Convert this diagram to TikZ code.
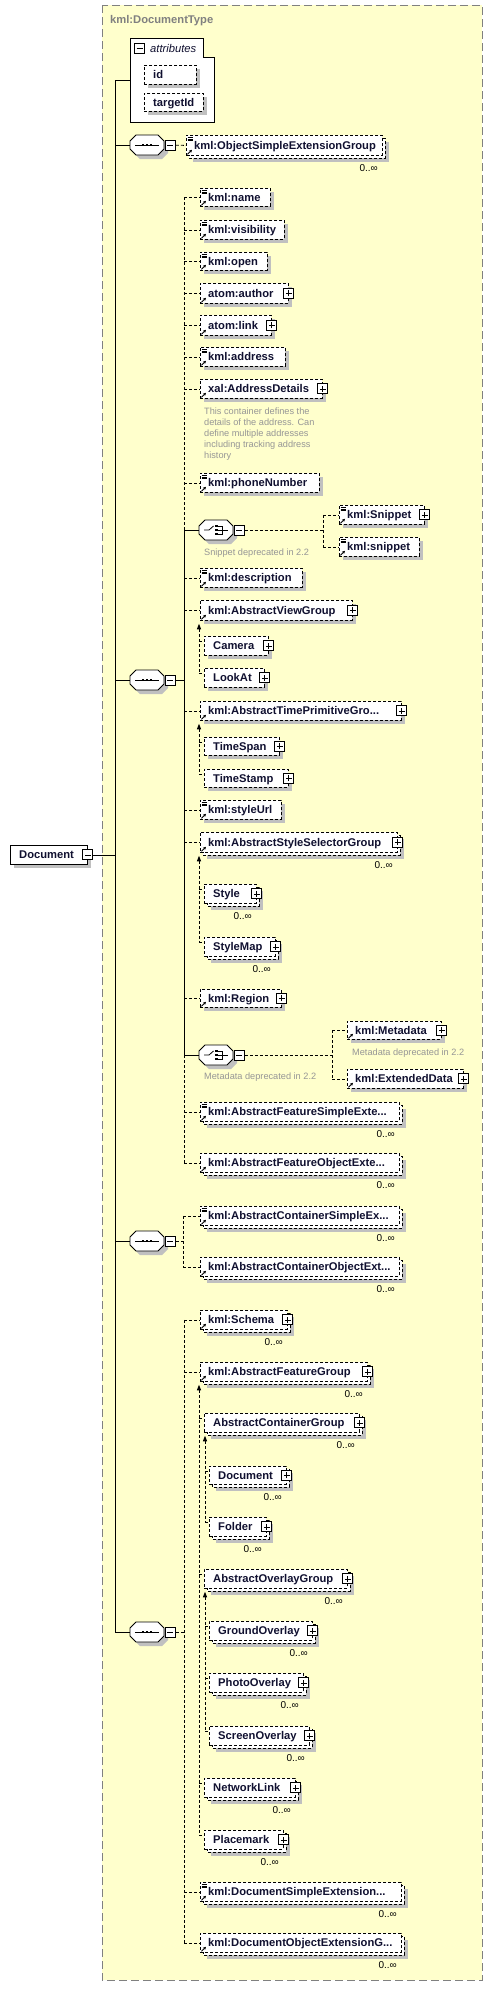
\documentclass[tikz,border=0pt]{standalone}
\usepackage{fontspec}
\setmainfont{Liberation Sans}
\usetikzlibrary{calc,arrows.meta}
\definecolor{bgy}{RGB}{255,255,204}
\definecolor{shadowc}{RGB}{192,192,192}
\definecolor{framec}{RGB}{128,128,128}
\definecolor{annoc}{RGB}{150,150,150}
\definecolor{txtc}{RGB}{16,16,48}
\tikzset{
 dl/.style={dash pattern=on 3pt off 2pt, line width=0.8pt},
 sl/.style={line width=0.8pt},
 elbox/.style={draw, dl, fill=white, inner sep=0pt, anchor=north west},
 solidbox/.style={draw, sl, fill=white, inner sep=0pt, anchor=north west},
 eltext/.style={anchor=base west, inner sep=0pt, text=txtc, font=\fontsize{11.2}{13}\selectfont\bfseries},
 mult/.style={anchor=base east, inner sep=0pt, font=\fontsize{10}{12}\selectfont},
 anno/.style={anchor=base west, inner sep=0pt, text=annoc, font=\fontsize{9.2}{11}\selectfont},
 pm/.style={draw, fill=white, line width=0.9pt, minimum size=10pt, inner sep=0pt},
 minusbox/.style={pm, path picture={\draw[line width=0.7pt] ([xshift=-3pt]path picture bounding box.center) -- ([xshift=3pt]path picture bounding box.center);}},
 plusbox/.style={pm, path picture={\draw[line width=0.7pt] ([xshift=-3pt]path picture bounding box.center) -- ([xshift=3pt]path picture bounding box.center) ([yshift=-3pt]path picture bounding box.center) -- ([yshift=3pt]path picture bounding box.center);}},
 compnode/.style={inner sep=0pt, minimum width=34pt, minimum height=20pt, anchor=north west},
}
% single element box: [text offset]{name}{x1}{y1}{x2}{y2}{text}
\newcommand\xE[7][8]{%
 \fill[shadowc] (#3+4,#4+4) rectangle (#5+4,#6+4);
 \node[elbox, minimum width={#5-#3}, minimum height={#6-#4}] (#2) at (#3,#4) {};
 \node[eltext] (#2-t) at ($(#2.west)+(#1,4)$) {#7};
}
% repeated element box (0..inf)
\newcommand\xEM[7][8]{%
 \fill[shadowc] (#3+7,#4+7) rectangle (#5+7,#6+7);
 \draw[dl, fill=white] (#3+3,#4+3) rectangle (#5+3,#6+3);
 \node[elbox, minimum width={#5-#3}, minimum height={#6-#4}] (#2) at (#3,#4) {};
 \node[eltext] (#2-t) at ($(#2.west)+(#1,4)$) {#7};
 \node[mult] (#2-n) at (#5-4,#6+16) {0..∞};
}
\newcommand\xSi[1]{\foreach \yy in {2,3.8,5.6} \draw[line width=0.55pt] ($(#1.north west)+(1.5,\yy)$) -- ++(5,0);}
\newcommand\xRf[1]{\draw[line width=0.9pt, -{Stealth[length=3pt,width=3pt]}] ($(#1.south west)+(1.5,-1.5)$) -- ++(4.5,-4.5);}
\newcommand\xPl[1]{\node[plusbox] (#1-p) at (#1.east) {};}
\newcommand\xOct[2]{(#1+6,#2) -- (#1+28,#2) -- (#1+34,#2+6) -- (#1+34,#2+14) -- (#1+28,#2+20) -- (#1+6,#2+20) -- (#1,#2+14) -- (#1,#2+6) -- cycle}
\newcommand\xSeq[3]{%
 \fill[shadowc] \xOct{#2+4}{#3+4};
 \node[compnode] (#1) at (#2,#3) {};
 \draw[sl, fill=white] \xOct{#2}{#3};
 \node[minusbox, anchor=west] (#1-m) at ($(#1.east)+(0.5,0)$) {};
 \draw[sl] (#2+5,#3+10) -- (#2+29,#3+10);
 \foreach \xx in {13,17,21} \fill (#2+\xx-1.4,#3+8.6) rectangle ++(2.8,2.8);
}
\newcommand\xCho[3]{%
 \fill[shadowc] \xOct{#2+4}{#3+4};
 \node[compnode] (#1) at (#2,#3) {};
 \draw[sl, fill=white] \xOct{#2}{#3};
 \node[minusbox, anchor=west] (#1-m) at ($(#1.east)+(0.5,0)$) {};
 \draw[sl] (#2+5,#3+10) -- (#2+10,#3+10) -- (#2+14.5,#3+6);
 \foreach \yy in {6,10,14} \fill (#2+16.2,#3+\yy-1.3) rectangle ++(2.6,2.6);
 \draw[sl] (#2+19,#3+6) -- (#2+23,#3+6) -- (#2+23,#3+14) -- (#2+19,#3+14) (#2+19,#3+10) -- (#2+29,#3+10);
}
% substitution group: {head}{x}{last}{members}
\newcommand\xSub[4]{%
 \coordinate (#1-sb) at (#2,0);
 \fill ($(#1-sb |- #1.south)+(0,3)$) -- ++(-2.2,5.5) -- ++(4.4,0) -- cycle;
 \draw[dl] ($(#1-sb |- #1.south)+(0,8)$) -- ($(#1-sb |- #3.north)+(0,5)$);
 \foreach \mm in {#4} \draw[dl] ($(#1-sb |- \mm.north)+(0,5)$) -- ($(\mm.north west)+(0,5)$);
}
\begin{document}
\begin{tikzpicture}[x=1pt,y=-1pt]
\useasboundingbox (0,0) rectangle (493,1990);
\fill[white] (0,0) rectangle (493,1990);
\draw[framec, line width=1pt, dash pattern=on 8pt off 4pt, fill=bgy] (102,5) rectangle (482,1980);
\node[anchor=base west, inner sep=0pt, text=framec, font=\fontsize{11.2}{13}\selectfont\bfseries] (title) at (110,23) {kml:DocumentType};

% root
\fill[shadowc] (14,849) rectangle (91,868);
\node[solidbox, minimum width=77pt, minimum height=19pt] (root) at (10,845) {};
\node[eltext] (root-t) at ($(root.west)+(9,4)$) {Document};
\node[minusbox] (root-m) at (root.east) {};

% attributes
\draw[sl, fill=white] (130,38) -- (203,38) -- (203,57) -- (214,57) -- (214,122) -- (130,122) -- cycle;
\coordinate (attrw) at (130,80);
\node[minusbox] (attr-m) at (139.5,48.3) {};
\node[anchor=base west, inner sep=0pt, text=txtc, font=\fontsize{11.2}{13}\selectfont\itshape] (attr-t) at (150,52) {attributes};
\xE[9]{idb}{144}{65}{196}{84}{id}
\xE[9]{tidb}{144}{93}{203}{111}{targetId}

% sequence 1
\xSeq{s1}{130}{135}
\xEM{osg}{186}{135}{382}{155}{kml:ObjectSimpleExtensionGroup}\xSi{osg}\xRf{osg}

% sequence 2
\xSeq{s2}{130}{670}
\xE{nm}{200}{188}{270}{206}{kml:name}\xSi{nm}\xRf{nm}
\xE{vis}{200}{220}{284}{239}{kml:visibility}\xSi{vis}\xRf{vis}
\xE{opn}{200}{252}{267}{270}{kml:open}\xSi{opn}\xRf{opn}
\xE{aut}{200}{283}{288}{303}{atom:author}\xRf{aut}\xPl{aut}
\xE{lnk}{200}{315}{271}{335}{atom:link}\xRf{lnk}\xPl{lnk}
\xE{adr}{200}{347}{285}{366}{kml:address}\xSi{adr}\xRf{adr}
\xE{adt}{200}{379}{322}{398}{xal:AddressDetails}\xRf{adt}\xPl{adt}
\node[anno] (adt-a1) at (204,414.5) {This container defines the};
\node[anno] (adt-a2) at (204,425.5) {details of the address. Can};
\node[anno] (adt-a3) at (204,436.5) {define multiple addresses};
\node[anno] (adt-a4) at (204,447.5) {including tracking address};
\node[anno] (adt-a5) at (204,458.5) {history};
\xE{phn}{200}{473}{319}{492}{kml:phoneNumber}\xSi{phn}\xRf{phn}
\xCho{snc}{199}{520}
\xE{snpA}{339}{505}{424}{524}{kml:Snippet}\xSi{snpA}\xRf{snpA}\xPl{snpA}
\xE{snpB}{339}{537}{419}{556}{kml:snippet}\xSi{snpB}\xRf{snpB}
\node[anno] (snc-a) at (204,555.5) {Snippet deprecated in 2.2};
\xE{dsc}{200}{568}{302}{587}{kml:description}\xSi{dsc}\xRf{dsc}
\xE{avg}{200}{600}{352}{620}{kml:AbstractViewGroup}\xRf{avg}\xPl{avg}
\xE[9]{cam}{204}{636}{268}{655}{Camera}\xPl{cam}
\xE[9]{lka}{204}{668}{264}{687}{LookAt}\xPl{lka}
\xE{atp}{200}{701}{401}{720}{kml:AbstractTimePrimitiveGro...}\xRf{atp}\xPl{atp}
\xE[9]{tsp}{204}{737}{279}{755}{TimeSpan}\xPl{tsp}
\xE[9]{tst}{204}{769}{288}{787}{TimeStamp}\xPl{tst}
\xE{sul}{200}{800}{281}{819}{kml:styleUrl}\xSi{sul}\xRf{sul}
\xEM{assg}{200}{832}{397}{852}{kml:AbstractStyleSelectorGroup}\xRf{assg}\xPl{assg}
\xEM[9]{styl}{204}{884}{256}{903}{Style}\xPl{styl}
\xEM[9]{stm}{204}{937}{275}{956}{StyleMap}\xPl{stm}
\xE{rgn}{200}{989}{281}{1007}{kml:Region}\xRf{rgn}\xPl{rgn}
\xCho{mdc}{199}{1045}
\xE{mdt}{347}{1021}{441}{1039}{kml:Metadata}\xRf{mdt}\xPl{mdt}
\node[anno] (mdt-a) at (352,1055.5) {Metadata deprecated in 2.2};
\xE{exd}{347}{1069}{463}{1088}{kml:ExtendedData}\xRf{exd}\xPl{exd}
\node[anno] (mdc-a) at (204,1079.5) {Metadata deprecated in 2.2};
\xEM{afse}{200}{1102}{399}{1121}{kml:AbstractFeatureSimpleExte...}\xSi{afse}\xRf{afse}
\xEM{afoe}{200}{1153}{399}{1172}{kml:AbstractFeatureObjectExte...}\xRf{afoe}

% sequence 3
\xSeq{s3}{130}{1231}
\xEM{acse}{200}{1206}{399}{1225}{kml:AbstractContainerSimpleEx...}\xSi{acse}\xRf{acse}
\xEM{acoe}{200}{1257}{399}{1276}{kml:AbstractContainerObjectExt...}\xRf{acoe}

% sequence 4
\xSeq{s4}{130}{1622}
\xEM{sch}{200}{1310}{287}{1329}{kml:Schema}\xRf{sch}\xPl{sch}
\xEM{afg}{200}{1362}{367}{1381}{kml:AbstractFeatureGroup}\xRf{afg}\xPl{afg}
\xEM[9]{acg}{204}{1413}{359}{1432}{AbstractContainerGroup}\xPl{acg}
\xEM[9]{dcm}{209}{1466}{286}{1484}{Document}\xPl{dcm}
\xEM[9]{fld}{209}{1517}{266}{1536}{Folder}\xPl{fld}
\xEM[9]{aog}{204}{1569}{347}{1588}{AbstractOverlayGroup}\xPl{aog}
\xEM[9]{gro}{209}{1621}{312}{1640}{GroundOverlay}\xPl{gro}
\xEM[9]{pho}{209}{1673}{303}{1692}{PhotoOverlay}\xPl{pho}
\xEM[9]{scr}{209}{1726}{309}{1745}{ScreenOverlay}\xPl{scr}
\xEM[9]{nwl}{204}{1778}{295}{1797}{NetworkLink}\xPl{nwl}
\xEM[9]{plm}{204}{1830}{283}{1849}{Placemark}\xPl{plm}
\xEM{dse}{200}{1882}{401}{1901}{kml:DocumentSimpleExtension...}\xSi{dse}\xRf{dse}
\xEM{doe}{200}{1933}{401}{1952}{kml:DocumentObjectExtensionG...}\xRf{doe}

% ---- connectors ----
\coordinate (mt) at (115,80);
\draw[sl] (mt) -- (mt |- s4.west);
\draw[sl] (mt) -- (attrw);
\draw[sl] (mt |- s1.west) -- (s1.west);
\draw[sl] (mt |- s2.west) -- (s2.west);
\draw[sl] (mt |- s3.west) -- (s3.west);
\draw[sl] (mt |- s4.west) -- (s4.west);
\draw[sl] (root-m.east) -- (mt |- root-m.east);
\draw[dl] (s1-m.east) -- (osg.west);

\coordinate (b2) at (184,0);
\draw[sl] (s2-m.east) -- (b2 |- s2-m.east);
\draw[dl] (b2 |- nm.west) -- (b2 |- snc.west);
\draw[sl] (b2 |- snc.west) -- (b2 |- mdc.west);
\draw[dl] (b2 |- mdc.west) -- (b2 |- afoe.west);
\foreach \nn in {nm,vis,opn,aut,lnk,adr,adt,phn,dsc,avg,atp,sul,assg,rgn,afse,afoe} \draw[dl] (b2 |- \nn.west) -- (\nn.west);
\draw[sl] (b2 |- snc.west) -- (snc.west);
\draw[sl] (b2 |- mdc.west) -- (mdc.west);

\coordinate (b5) at (323,0);
\draw[dl] (snc-m.east) -- (b5 |- snc-m.east);
\draw[dl] (b5 |- snpA.west) -- (b5 |- snpB.west);
\draw[dl] (b5 |- snpA.west) -- (snpA.west);
\draw[dl] (b5 |- snpB.west) -- (snpB.west);

\coordinate (b6) at (332,0);
\draw[dl] (mdc-m.east) -- (b6 |- mdc-m.east);
\draw[dl] (b6 |- mdt.west) -- (b6 |- exd.west);
\draw[dl] (b6 |- mdt.west) -- (mdt.west);
\draw[dl] (b6 |- exd.west) -- (exd.west);

\coordinate (b3) at (183,0);
\draw[dl] (s3-m.east) -- (b3 |- s3-m.east);
\draw[dl] (b3 |- acse.west) -- (b3 |- acoe.west);
\draw[dl] (b3 |- acse.west) -- (acse.west);
\draw[dl] (b3 |- acoe.west) -- (acoe.west);

\coordinate (b4) at (184,0);
\draw[dl] (s4-m.east) -- (b4 |- s4-m.east);
\draw[dl] (b4 |- sch.west) -- (b4 |- doe.west);
\foreach \nn in {sch,afg,dse,doe} \draw[dl] (b4 |- \nn.west) -- (\nn.west);

\xSub{avg}{199}{lka}{cam,lka}
\xSub{atp}{199}{tst}{tsp,tst}
\xSub{assg}{199}{stm}{styl,stm}
\xSub{afg}{199}{plm}{acg,aog,nwl,plm}
\xSub{acg}{205}{fld}{dcm,fld}
\xSub{aog}{205}{scr}{gro,pho,scr}
\end{tikzpicture}
\end{document}
